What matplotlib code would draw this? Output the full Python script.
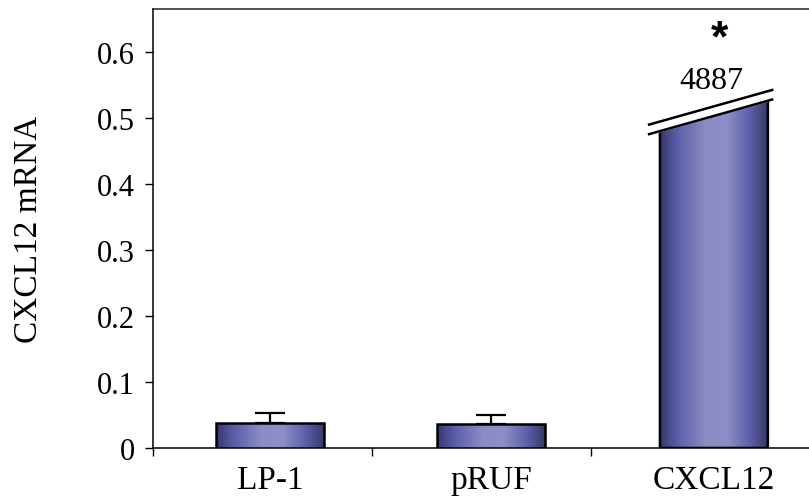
import matplotlib.pyplot as plt
import numpy as np
from matplotlib.colors import LinearSegmentedColormap
from matplotlib.patches import Polygon
from matplotlib.ticker import FixedLocator

plt.rcParams['font.family'] = ['Liberation Serif', 'DejaVu Serif']

# data
groups = ['LP-1', 'pRUF', 'CXCL12']
values = [0.038, 0.037, 0.526]
errors = [0.015, 0.013, 0.0]
# CXCL12 bar is broken: top edge goes from break_left to break_right
break_left = 0.480
break_right = 0.526
break_label = '4887'

bar_pos = [0.534, 1.546, 2.562]
bar_w = 0.493

grad = LinearSegmentedColormap.from_list('bargrad', [
    (0.0, '#35386a'), (0.16, '#5b5ea8'), (0.42, '#8c8bc4'),
    (0.62, '#8f8ec6'), (0.84, '#5b5ea8'), (1.0, '#373a68')])

fig = plt.figure(figsize=(8.09, 5.02), dpi=100)
ax = fig.add_axes([0.189, 0.1056, 0.812, 0.8745])

bars = ax.bar(bar_pos, values, width=bar_w, color='none', edgecolor='none', zorder=2)
ax.errorbar(bar_pos[:2], values[:2], yerr=[[0, 0], errors[:2]], fmt='none',
            ecolor='black', elinewidth=1.6, capsize=11, capthick=1.6, zorder=1)

gvals = np.linspace(0, 1, 256).reshape(1, -1)
for i, b in enumerate(bars):
    x0, w = b.get_x(), b.get_width()
    if i == 2:
        verts = [(x0, 0), (x0 + w, 0), (x0 + w, break_right), (x0, break_left)]
        top = break_right
    else:
        verts = [(x0, 0), (x0 + w, 0), (x0 + w, b.get_height()), (x0, b.get_height())]
        top = b.get_height()
    poly = Polygon(verts, closed=True, facecolor='none', edgecolor='black',
                   linewidth=1.8, zorder=4)
    ax.add_patch(poly)
    im = ax.imshow(gvals, cmap=grad, aspect='auto', extent=[x0, x0 + w, 0, top],
                   zorder=3, interpolation='bilinear')
    im.set_clip_path(poly)

# break marks over CXCL12
b = bars[2]
slope = (break_right - break_left) / b.get_width()
xs = np.array([b.get_x() - 0.055, b.get_x() + b.get_width() + 0.025])
low = break_left + slope * (xs - b.get_x())
high = low + 0.0145
ax.fill_between(xs, low, high, color='white', zorder=5)
ax.plot(xs, low, color='black', lw=1.8, zorder=6, solid_capstyle='butt')
ax.plot(xs, high, color='black', lw=1.8, zorder=6, solid_capstyle='butt')
ax.text(2.55, 0.557, break_label, ha='center', va='center', fontsize=23, zorder=7)
ax.text(2.587, 0.62, '*', ha='center', va='center', fontsize=32, fontweight='bold',
        family=['Liberation Sans', 'DejaVu Sans'], zorder=7)

ax.set_xlim(0, 3)
ax.set_ylim(0, 0.665)
ax.set_yticks([0, 0.1, 0.2, 0.3, 0.4, 0.5, 0.6])
ax.set_yticklabels(['0', '0.1', '0.2', '0.3', '0.4', '0.5', '0.6'])
ax.set_xticks(bar_pos)
ax.set_xticklabels(groups)
ax.xaxis.set_minor_locator(FixedLocator([0, 1, 2, 3]))
ax.tick_params(axis='x', which='major', length=0, pad=12, labelsize=24)
ax.tick_params(axis='x', which='minor', length=6, width=1, direction='out')
ax.tick_params(axis='y', length=6, width=1, direction='out', pad=7, labelsize=22)
ax.set_ylabel('CXCL12 mRNA', fontsize=24, labelpad=38)

ax.spines['right'].set_visible(False)
for s in ['left', 'bottom', 'top']:
    ax.spines[s].set_linewidth(1.1)
ax.spines['top'].set_color('#222222')

fig.savefig('out.png', dpi=100)
